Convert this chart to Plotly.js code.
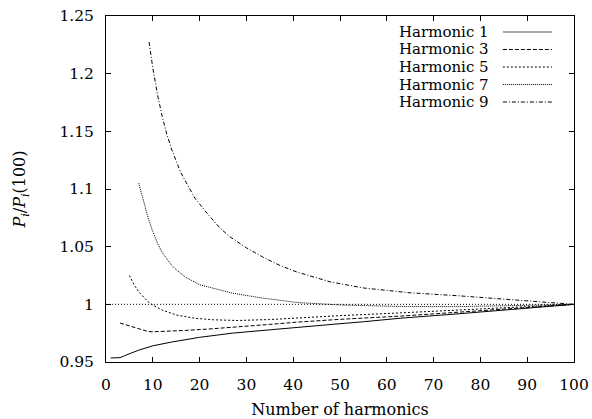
<!DOCTYPE html>
<html>
<head>
<meta charset="utf-8">
<script src="https://cdn.plot.ly/plotly-3.0.1.min.js"></script>
<style>
  html, body { margin: 0; padding: 0; background: #fff; }
  #chart { width: 592px; height: 419px; }
</style>
</head>
<body>
<div id="chart"></div>
<script>
// ---- Data ----
const seriesNames = ['Harmonic 1', 'Harmonic 3', 'Harmonic 5', 'Harmonic 7', 'Harmonic 9'];

const h1X = [1, 3, 4, 5, 7, 10, 14, 20, 27, 35, 41, 50, 55, 63, 75, 84, 92, 100];
const h1Y = [0.9535, 0.9538, 0.9555, 0.9572, 0.9603, 0.9640, 0.9673, 0.9714, 0.9750, 0.9779, 0.9802, 0.9832, 0.9849, 0.9880, 0.9917, 0.9947, 0.9974, 1.0];

const h3X = [3, 5, 7, 9, 10, 13, 17, 22, 27, 35, 41, 50, 63, 75, 84, 92, 100];
const h3Y = [0.9838, 0.9812, 0.9787, 0.9764, 0.9762, 0.9766, 0.9774, 0.9786, 0.9800, 0.9826, 0.9846, 0.9870, 0.9898, 0.9932, 0.9961, 0.9982, 1.0];

const h5X = [5, 6, 7, 8, 9, 10, 12, 15, 19, 23, 28, 35, 41, 50, 63, 75, 84, 92, 100];
const h5Y = [1.0250, 1.0170, 1.0108, 1.0060, 1.0022, 0.9994, 0.9950, 0.9908, 0.9879, 0.9866, 0.9860, 0.9868, 0.9882, 0.9902, 0.9926, 0.9950, 0.9968, 0.9985, 1.0];

const h7X = [7, 8, 9, 10, 11, 12, 13, 14, 15, 17, 20, 24, 27, 33, 41, 50, 63, 75, 85, 92, 100];
const h7Y = [1.105, 1.089, 1.075, 1.063, 1.053, 1.045, 1.039, 1.034, 1.030, 1.0235, 1.0170, 1.0125, 1.0097, 1.0057, 1.0015, 0.9995, 0.9981, 0.9980, 0.9985, 0.9993, 1.0];

const h9X = [9.2, 10, 11, 12, 13, 14, 16, 19, 22, 24.4, 26.5, 30, 33.5, 37, 40.8, 47.9, 55, 65, 75, 84, 92.7, 100];
const h9Y = [1.2274, 1.205, 1.182, 1.163, 1.1475, 1.1346, 1.114, 1.092, 1.077, 1.066, 1.0585, 1.049, 1.0410, 1.034, 1.0280, 1.0195, 1.0142, 1.0100, 1.0075, 1.0050, 1.0023, 1.0];

const refX = [0, 100];
const refY = [1, 1];

const xTicks = [0, 10, 20, 30, 40, 50, 60, 70, 80, 90, 100];
const yTicks = [0.95, 1.0, 1.05, 1.1, 1.15, 1.2, 1.25];
const yTickLabels = ['0.95', '1', '1.05', '1.1', '1.15', '1.2', '1.25'];

// ---- Styles ----
const FONT = 'DejaVu Serif, Liberation Serif, serif';
const dashes = ['solid', '4px,2px', '2px,2px', '1px,1px', '4px,2px,1px,2px'];
const xs = [h1X, h3X, h5X, h7X, h9X];
const ys = [h1Y, h3Y, h5Y, h7Y, h9Y];

const traces = [{
  x: refX, y: refY, mode: 'lines', showlegend: false, hoverinfo: 'skip',
  line: { color: '#000', width: 1, dash: '1px,2px' }
}];
for (let i = 0; i < seriesNames.length; i++) {
  traces.push({
    x: xs[i], y: ys[i], name: seriesNames[i], mode: 'lines',
    line: { color: '#000', width: 1, dash: dashes[i] },
    showlegend: false
  });
}

// Custom gnuplot-style key: text then line sample, inside top-right
const rowY = [0.9538, 0.9032, 0.8526, 0.8020, 0.7514];
const annotations = [];
const shapes = [];
for (let i = 0; i < seriesNames.length; i++) {
  annotations.push({
    xref: 'paper', yref: 'paper', x: 0.8226, y: rowY[i],
    xanchor: 'right', yanchor: 'middle', showarrow: false,
    text: seriesNames[i], font: { family: FONT, size: 15, color: '#000' }
  });
  shapes.push({
    type: 'line', xref: 'paper', yref: 'paper',
    x0: 0.848, x1: 0.953, y0: rowY[i], y1: rowY[i],
    line: { color: i === 0 ? '#555' : '#000', width: 1, dash: dashes[i] }
  });
}

const layout = {
  width: 592, height: 419,
  margin: { l: 106, r: 18, t: 16, b: 57 },
  paper_bgcolor: '#fff', plot_bgcolor: '#fff',
  font: { family: FONT, size: 15.5, color: '#000' },
  showlegend: false,
  xaxis: {
    range: [0, 100], tickvals: xTicks, ticks: 'inside', ticklen: 5, tickcolor: '#000',
    showline: true, linecolor: '#000', linewidth: 1, mirror: 'ticks',
    showgrid: false, zeroline: false, ticklabelstandoff: 8,
    tickfont: { family: FONT, size: 15.5, color: '#000' },
    title: { text: 'Number of harmonics', font: { family: FONT, size: 16, color: '#000' }, standoff: 12 }
  },
  yaxis: {
    range: [0.95, 1.25], tickvals: yTicks, ticktext: yTickLabels, ticks: 'inside', ticklen: 5, tickcolor: '#000',
    showline: true, linecolor: '#000', linewidth: 1, mirror: 'ticks',
    showgrid: false, zeroline: false, ticklabelstandoff: 8,
    tickfont: { family: FONT, size: 15.5, color: '#000' },
    title: { text: '<i>P<sub>i</sub></i>/<i>P<sub>i</sub></i>(100)', font: { family: FONT, size: 16, color: '#000' }, standoff: 29 }
  },
  annotations: annotations,
  shapes: shapes
};

Plotly.newPlot('chart', traces, layout, { staticPlot: true, displayModeBar: false });
</script>
</body>
</html>
